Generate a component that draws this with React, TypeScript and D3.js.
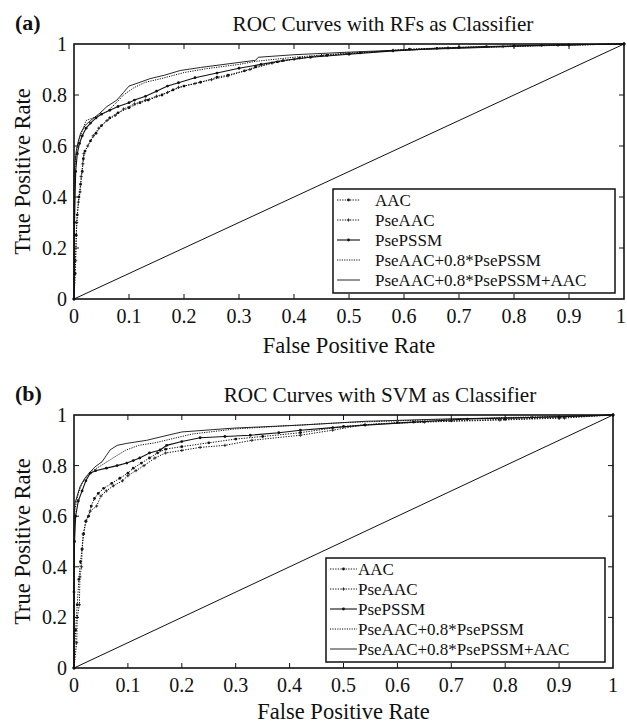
import React from 'react';
import * as d3 from 'd3';

// legend names, in legend order
const seriesNames = ['AAC', 'PseAAC', 'PsePSSM', 'PseAAC+0.8*PsePSSM', 'PseAAC+0.8*PsePSSM+AAC'];
const xTicks = [0, 0.1, 0.2, 0.3, 0.4, 0.5, 0.6, 0.7, 0.8, 0.9, 1];
const yTicks = [0, 0.2, 0.4, 0.6, 0.8, 1];
const xTickLabels = ['0', '0.1', '0.2', '0.3', '0.4', '0.5', '0.6', '0.7', '0.8', '0.9', '1'];
const yTickLabels = ['0', '0.2', '0.4', '0.6', '0.8', '1'];

// (a) RFs  — [fpr, tpr]
const rfAAC = [[0,0],[0.002,0.1],[0.004,0.25],[0.006,0.33],[0.009,0.4],[0.012,0.45],[0.015,0.5],[0.017,0.55],[0.02,0.58],[0.03,0.62],[0.04,0.65],[0.05,0.68],[0.065,0.71],[0.08,0.73],[0.1,0.75],[0.12,0.77],[0.135,0.78],[0.16,0.8],[0.18,0.82],[0.2,0.835],[0.23,0.85],[0.26,0.87],[0.28,0.878],[0.31,0.895],[0.33,0.91],[0.37,0.93],[0.41,0.945],[0.46,0.955],[0.52,0.965],[0.61,0.98],[0.7,0.987],[0.8,0.992],[0.9,0.996],[1,1]];
const rfPseAAC = [[0,0],[0.003,0.15],[0.005,0.3],[0.008,0.38],[0.011,0.42],[0.013,0.48],[0.016,0.53],[0.018,0.57],[0.025,0.6],[0.035,0.64],[0.045,0.67],[0.06,0.7],[0.075,0.72],[0.09,0.745],[0.11,0.765],[0.13,0.78],[0.15,0.795],[0.17,0.81],[0.19,0.83],[0.22,0.845],[0.25,0.86],[0.28,0.875],[0.32,0.9],[0.36,0.925],[0.4,0.94],[0.45,0.955],[0.5,0.962],[0.58,0.975],[0.68,0.985],[0.78,0.99],[0.88,0.995],[1,1]];
const rfPsePSSM = [[0,0],[0.001,0.3],[0.003,0.5],[0.006,0.57],[0.01,0.61],[0.015,0.64],[0.022,0.67],[0.03,0.69],[0.04,0.71],[0.05,0.725],[0.065,0.74],[0.08,0.755],[0.1,0.77],[0.11,0.78],[0.13,0.795],[0.15,0.815],[0.17,0.835],[0.19,0.848],[0.22,0.868],[0.26,0.886],[0.3,0.905],[0.34,0.92],[0.38,0.935],[0.43,0.948],[0.5,0.96],[0.58,0.973],[0.66,0.983],[0.75,0.99],[0.85,0.995],[1,1]];
const rfComb = [[0,0],[0,0.45],[0.003,0.55],[0.006,0.6],[0.01,0.63],[0.015,0.66],[0.022,0.7],[0.04,0.715],[0.06,0.735],[0.075,0.765],[0.09,0.8],[0.11,0.83],[0.13,0.85],[0.16,0.865],[0.2,0.888],[0.24,0.903],[0.3,0.92],[0.33,0.932],[0.4,0.948],[0.5,0.965],[0.6,0.975],[0.7,0.985],[0.8,0.99],[0.9,0.996],[1,1]];
const rfCombAAC = [[0,0],[0,0.5],[0.004,0.58],[0.008,0.62],[0.012,0.65],[0.02,0.68],[0.03,0.7],[0.045,0.725],[0.06,0.755],[0.078,0.78],[0.09,0.81],[0.1,0.835],[0.12,0.85],[0.138,0.864],[0.165,0.878],[0.193,0.896],[0.23,0.908],[0.28,0.922],[0.33,0.936],[0.335,0.948],[0.4,0.958],[0.5,0.968],[0.6,0.977],[0.715,0.984],[0.835,0.994],[0.93,0.998],[1,1]];

// (b) SVM
const svmAAC = [[0,0],[0.003,0.15],[0.006,0.25],[0.009,0.35],[0.012,0.42],[0.015,0.47],[0.018,0.53],[0.022,0.58],[0.027,0.6],[0.032,0.64],[0.038,0.67],[0.045,0.69],[0.055,0.71],[0.07,0.73],[0.085,0.75],[0.1,0.77],[0.11,0.79],[0.125,0.81],[0.14,0.83],[0.155,0.85],[0.17,0.865],[0.2,0.875],[0.25,0.89],[0.3,0.905],[0.35,0.915],[0.42,0.93],[0.5,0.955],[0.6,0.97],[0.7,0.977],[0.8,0.983],[0.9,0.99],[1,1]];
const svmPseAAC = [[0,0],[0.005,0.1],[0.006,0.2],[0.01,0.25],[0.011,0.36],[0.014,0.4],[0.015,0.47],[0.017,0.53],[0.022,0.58],[0.03,0.62],[0.042,0.64],[0.05,0.68],[0.06,0.7],[0.073,0.72],[0.09,0.74],[0.1,0.76],[0.115,0.78],[0.13,0.8],[0.15,0.83],[0.17,0.85],[0.2,0.86],[0.234,0.872],[0.28,0.88],[0.33,0.9],[0.42,0.92],[0.48,0.94],[0.54,0.962],[0.65,0.972],[0.79,0.98],[0.91,0.988],[1,1]];
const svmPsePSSM = [[0,0],[0,0.3],[0.001,0.5],[0.003,0.6],[0.008,0.66],[0.015,0.7],[0.022,0.74],[0.03,0.77],[0.04,0.78],[0.06,0.79],[0.08,0.8],[0.098,0.81],[0.11,0.82],[0.122,0.83],[0.14,0.85],[0.16,0.862],[0.172,0.88],[0.2,0.895],[0.234,0.91],[0.28,0.915],[0.327,0.92],[0.38,0.93],[0.42,0.94],[0.48,0.95],[0.54,0.96],[0.63,0.972],[0.73,0.984],[0.85,0.99],[1,1]];
const svmComb = [[0,0],[0,0.55],[0.002,0.63],[0.008,0.69],[0.015,0.73],[0.025,0.76],[0.035,0.78],[0.05,0.8],[0.065,0.82],[0.08,0.84],[0.095,0.86],[0.12,0.88],[0.15,0.89],[0.18,0.905],[0.22,0.925],[0.3,0.945],[0.4,0.958],[0.5,0.97],[0.6,0.977],[0.7,0.983],[0.8,0.99],[0.9,0.995],[1,1]];
const svmCombAAC = [[0,0],[0,0.6],[0.002,0.652],[0.011,0.716],[0.02,0.75],[0.03,0.775],[0.039,0.795],[0.052,0.815],[0.06,0.84],[0.067,0.862],[0.08,0.88],[0.098,0.888],[0.135,0.9],[0.16,0.913],[0.2,0.933],[0.295,0.948],[0.42,0.96],[0.54,0.975],[0.7,0.985],[0.85,0.99],[0.95,0.996],[1,1]];

const diagonal = [[0,0],[1,1]];

const serif = { fontFamily: "'Liberation Serif'" };

// line style per series: dash, marker
const styles = [
  { dash: '1.3,1.3', marker: 'dot', w: 1 },
  { dash: '1.3,1.3', marker: 'plus', w: 1 },
  { dash: null, marker: 'dot', w: 1.1 },
  { dash: '1.2,1.2', marker: null, w: 1 },
  { dash: null, marker: null, w: 0.9 },
];

function Marker({ kind, x, y }: { kind: string | null, x: number, y: number }) {
  if (kind === 'dot') return <circle cx={x} cy={y} r={1.4} fill="#111" />;
  if (kind === 'plus')
    return <path d={`M${x - 1.6},${y}H${x + 1.6}M${x},${y - 1.6}V${y + 1.6}`} stroke="#222" strokeWidth={0.9} />;
  return null;
}

function Panel(props: any) {
  const { left, top, width, height, series, label, title, titleX, legend } = props;
  const x = d3.scaleLinear().domain([0, 1]).range([left, left + width]);
  const y = d3.scaleLinear().domain([0, 1]).range([top + height, top]);
  const line = d3.line<number[]>().x(d => x(d[0])).y(d => y(d[1]));
  const bottom = top + height;
  const right = left + width;

  return (
    <g fill="#111">
      <text x={15} y={top - 14} fontSize={22} fontWeight="bold" style={serif}>{label}</text>
      <text x={titleX} y={top - 13} fontSize={21.2} textAnchor="middle" style={serif}>{title}</text>

      <path d={line(diagonal as any) || ''} fill="none" stroke="#111" strokeWidth={1} />

      {series.map((s: number[][], i: number) => (
        <g key={i}>
          <path d={line(s as any) || ''} fill="none" stroke="#111"
            strokeWidth={styles[i].w} strokeDasharray={styles[i].dash || undefined} />
          {styles[i].marker && s.map((p, j) => <Marker key={j} kind={styles[i].marker} x={x(p[0])} y={y(p[1])} />)}
        </g>
      ))}

      {/* frame + inward ticks */}
      <rect x={left} y={top} width={width} height={height} fill="none" stroke="#111" strokeWidth={1.6} />
      {xTicks.slice(1, -1).map(t => (
        <g key={'x' + t} stroke="#111" strokeWidth={1}>
          <line x1={x(t)} x2={x(t)} y1={bottom} y2={bottom - 5} />
          <line x1={x(t)} x2={x(t)} y1={top} y2={top + 5} />
        </g>
      ))}
      {yTicks.slice(1, -1).map(t => (
        <g key={'y' + t} stroke="#111" strokeWidth={1}>
          <line x1={left} x2={left + 5} y1={y(t)} y2={y(t)} />
          <line x1={right} x2={right - 5} y1={y(t)} y2={y(t)} />
        </g>
      ))}
      {xTicks.map((t, i) => (
        <text key={'xl' + t} x={Math.min(x(t), 621)} y={bottom + 24} fontSize={20} textAnchor="middle" style={serif}>{xTickLabels[i]}</text>
      ))}
      {yTicks.map((t, i) => (
        <text key={'yl' + t} x={left - 7} y={y(t) + 7} fontSize={20} textAnchor="end" style={serif}>{yTickLabels[i]}</text>
      ))}
      <text x={(left + right) / 2} y={Math.min(bottom + 54, 719)} fontSize={22.5} textAnchor="middle" style={serif}>False Positive Rate</text>
      <text transform={`translate(30,${top + height / 2}) rotate(-90)`} fontSize={22.5} textAnchor="middle" style={serif}>True Positive Rate</text>

      {/* legend */}
      <rect x={legend.x} y={legend.y} width={legend.w} height={legend.h} fill="#fff" stroke="#111" strokeWidth={1.5} />
      {seriesNames.map((n, i) => {
        const cy = legend.y + 11 + i * 20;
        const st = styles[i];
        return (
          <g key={n}>
            <line x1={legend.lx1} x2={legend.lx2} y1={cy} y2={cy} stroke="#111"
              strokeWidth={st.w} strokeDasharray={st.dash || undefined} />
            {st.marker && <Marker kind={st.marker} x={(legend.lx1 + legend.lx2) / 2} y={cy} />}
            <text x={legend.tx} y={cy + 6} fontSize={17} style={serif}>{n}</text>
          </g>
        );
      })}
    </g>
  );
}

export default function App() {
  return (
    <svg width={627} height={725}
      style={{ position: 'absolute', left: 0, top: 0, background: '#fff' }}>
      <rect width={627} height={725} fill="#fff" />
      <Panel left={74} top={44} width={550} height={255} label="(a)"
        title="ROC Curves with RFs as Classifier" titleX={383}
        series={[rfAAC, rfPseAAC, rfPsePSSM, rfComb, rfCombAAC]}
        legend={{ x: 333, y: 189, w: 282, h: 104, lx1: 337, lx2: 360, tx: 375 }} />
      <Panel left={74} top={415} width={539} height={253} label="(b)"
        title="ROC Curves with SVM as Classifier" titleX={380}
        series={[svmAAC, svmPseAAC, svmPsePSSM, svmComb, svmCombAAC]}
        legend={{ x: 326, y: 558, w: 279, h: 104, lx1: 330, lx2: 357, tx: 358 }} />
    </svg>
  );
}
